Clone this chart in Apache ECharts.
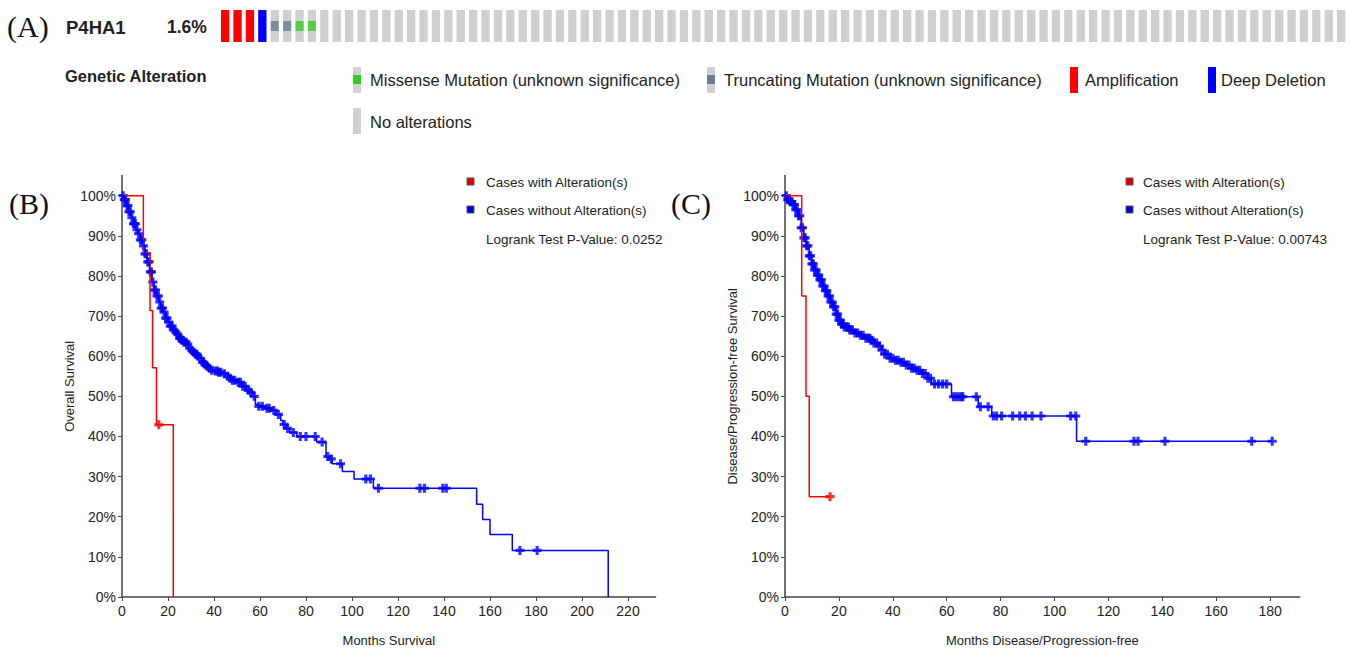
<!DOCTYPE html>
<html>
<head>
<meta charset="utf-8">
<script src="https://cdn.jsdelivr.net/npm/echarts@6/dist/echarts.min.js"></script>
<style>
  html, body { margin: 0; padding: 0; background: #fff; }
  #main { width: 1349px; height: 652px; }
</style>
</head>
<body>
<div id="main"></div>
<script>
// ---------- data ----------
// (A) oncoprint strip: altered samples first, then the unaltered ones visible in the strip
var alteredSamples = ['AMP', 'AMP', 'AMP', 'HOMDEL', 'TRUNC', 'TRUNC', 'MISSENSE', 'MISSENSE'];
var unalteredCount = 83;

// (B) overall survival, Kaplan-Meier steps [month, survival %]
var osAltSteps = [[0, 100], [9.3, 85.7], [12.2, 71.4], [13.3, 57.1], [15, 42.9], [22.3, 0]];
var osAltCensor = [16];
var osUnaltSteps = [
  [0, 100], [1, 99], [2, 97.5], [3, 96], [4, 94.5], [5, 93], [6, 91.5], [7, 90.5], [8, 89], [9, 87.5],
  [10, 85.5], [11, 83.5], [12, 81], [13, 78.5], [14, 76.5], [15, 75], [16, 73.5], [17, 72], [18, 71],
  [19, 69.5], [20, 68.5], [21, 67.5], [22, 66.5], [23, 66], [24, 65.5], [25, 64.5], [26, 64], [27, 63.5],
  [28, 63], [29, 62], [30, 61.5], [31, 61], [32, 60.5], [33, 60], [34, 59.5], [35, 58.5], [36, 58],
  [37, 57.5], [38, 57], [39, 56.5], [40, 56.3], [42, 56], [44, 55.6], [46, 55], [47, 54.5], [48, 54],
  [50, 53.5], [52, 52.5], [54, 51.5], [56, 51], [57, 50], [58, 48], [59, 47.5], [62, 47], [65, 46.5],
  [67, 45.5], [69, 44], [70, 43], [71.5, 42], [73, 41], [76, 40], [84.6, 38.6], [88.7, 35], [90, 34.4],
  [91.3, 33.2], [95.8, 31.3], [100.9, 29.4], [109.3, 27.1], [154.2, 23.1], [156.8, 19.3], [160, 15.6],
  [169.7, 11.6], [211.4, 0]
];
var osUnaltCensor = [
  0.5, 1, 1.5, 2.2, 2.6, 3, 3.6, 4.3, 5, 5.4, 5.8, 6.5, 7.2, 8, 8.6, 9.3, 10, 10.6, 11.2, 11.8, 12.3, 12.8, 13.4,
  14, 14.6, 15.2, 15.8, 16.4, 17, 17.6, 18.3, 19, 19.6, 20.3, 21, 21.8, 22.6, 23.4, 24.2, 25, 25.5, 26, 26.5, 27,
  27.8, 28.6, 29.4, 30.3, 31.2, 32, 32.5, 33, 34, 35, 35.5, 36, 37, 38, 39, 40.5, 41.5, 42, 43, 44.5, 46, 47, 48, 49,
  50.5, 51.5, 52.5, 53.5, 55, 56, 57.5, 59.5, 61, 63, 64, 66, 68, 70.5, 72, 74.5, 77.5, 80, 84, 87,
  89.5, 91, 95, 106, 108, 111.5, 129.5, 131.5, 139.5, 141, 173, 180.5
];

// (C) disease/progression-free survival
var dfsAltSteps = [[0, 100], [6.2, 75], [7.8, 50], [9, 25], [16.7, 25]];
var dfsAltCensor = [16.7];
var dfsUnaltSteps = [
  [0, 100], [1, 99], [2, 98.5], [3, 97.8], [4, 96.5], [5, 95], [6, 92], [7, 89.5], [8, 87.5], [9, 85],
  [10, 83], [11, 81.5], [12, 80.2], [13, 79], [14, 77.5], [15, 76.3], [16, 75], [17, 73.5], [18, 72.3],
  [19, 70.5], [20, 69], [21, 68], [22, 67.3], [24, 66.5], [26, 65.8], [28, 65.2], [30, 64.5], [32, 64],
  [33, 63.3], [35, 62.5], [36, 61.5], [37, 60.5], [39, 59.5], [41, 59], [43, 58.5], [45, 57.8], [47, 57],
  [49, 56.5], [51, 55.7], [53, 54.5], [54.4, 53.1], [61.8, 49.9], [71.7, 47.4], [76.7, 45.1],
  [108.2, 38.8], [180.8, 38.8]
];
var dfsUnaltCensor = [
  0.5, 1, 1.5, 2, 2.5, 3, 3.5, 4, 4.5, 5, 5.5, 6, 6.5, 7, 7.5, 8, 8.5, 9, 9.5, 10, 10.5, 11, 11.5, 12,
  12.5, 13, 13.5, 14, 14.5, 15, 15.5, 16, 16.5, 17, 17.5, 18, 18.5, 19, 19.5, 20, 20.5, 21, 21.5, 22, 23, 23.5, 24,
  25, 26, 27, 28, 29, 30, 31, 31.5, 32, 33, 34, 35, 36, 37, 38, 39, 40, 41, 42, 43, 44, 45, 46, 47, 48, 49,
  50, 51, 52, 53, 54, 55.5, 57, 58.5, 60, 62.5, 63.5, 64.5, 65.5, 66, 71, 72.5, 75.4, 77.3, 78.5, 80.4,
  84.5, 87.1, 89.2, 91.7, 95, 106, 107.9, 111.6, 129.5, 131, 141, 173.2, 180.8
];

var pctTicks = [0, 10, 20, 30, 40, 50, 60, 70, 80, 90, 100];
var osMonthTicks = [0, 20, 40, 60, 80, 100, 120, 140, 160, 180, 200, 220];
var dfsMonthTicks = [0, 20, 40, 60, 80, 100, 120, 140, 160, 180];

// ---------- helpers ----------
var RED = '#ff0000', BLUE = '#0000ff';
var FONT = 'Arial, "Liberation Sans", sans-serif';
var SERIF = '"Liberation Serif", "Times New Roman", serif';
var PLUS = 'path://M2.6,0H5.4V2.6H8V5.4H5.4V8H2.6V5.4H0V2.6H2.6Z';

function survAt(steps, t) {
  var s = steps[0][1];
  for (var i = 0; i < steps.length; i++) if (steps[i][0] <= t) s = steps[i][1];
  return s;
}
function censorPts(steps, times) {
  return times.map(function (t) { return [t, survAt(steps, t)]; });
}

var oncoColors = { AMP: RED, HOMDEL: BLUE, TRUNC: '#d0d0d0', MISSENSE: '#d0d0d0', NONE: '#d0d0d0' };
var mutColors = { TRUNC: '#6e7b8b', MISSENSE: '#33cc22' };
var samples = alteredSamples.slice();
for (var k = 0; k < unalteredCount; k++) samples.push('NONE');
var sampleIdx = samples.map(function (_, i) { return i; });
var oncoBars = samples.map(function (a) {
  return { value: 1, itemStyle: { color: oncoColors[a] } };
});
var oncoMuts = [];
samples.forEach(function (a, i) {
  if (mutColors[a]) oncoMuts.push({ value: [i, 0.5], itemStyle: { color: mutColors[a] } });
});

function valueAxisPct(gridIndex, name, gap) {
  return {
    type: 'value', gridIndex: gridIndex, min: 0, max: 105,
    name: name, nameLocation: 'middle', nameGap: gap, nameRotate: 90,
    nameTextStyle: { fontFamily: FONT, fontSize: 13, color: '#222' },
    axisLine: { show: true, lineStyle: { color: '#444', width: 1.5 } },
    axisTick: { show: true, length: 4, customValues: pctTicks, lineStyle: { color: '#444' } },
    axisLabel: { customValues: pctTicks, formatter: '{value}%', fontFamily: FONT, fontSize: 14, color: '#222', margin: 6 },
    splitLine: { show: false }
  };
}
function monthAxis(gridIndex, max, ticks, name) {
  return {
    type: 'value', gridIndex: gridIndex, min: 0, max: max,
    name: name, nameLocation: 'middle', nameGap: 37,
    nameTextStyle: { fontFamily: FONT, fontSize: 13, color: '#222' },
    axisLine: { show: true, lineStyle: { color: '#444', width: 1.5 } },
    axisTick: { show: true, length: 4, customValues: ticks, lineStyle: { color: '#444' } },
    axisLabel: { customValues: ticks, fontFamily: FONT, fontSize: 14, color: '#222', margin: 7 },
    splitLine: { show: false }
  };
}
function kmLine(xi, steps, color) {
  return {
    type: 'line', xAxisIndex: xi, yAxisIndex: xi, step: 'end', data: steps,
    showSymbol: false, symbol: 'none', silent: true,
    lineStyle: { color: color, width: 1.5 }
  };
}
function kmCensor(xi, steps, times, color) {
  return {
    type: 'scatter', xAxisIndex: xi, yAxisIndex: xi, data: censorPts(steps, times),
    symbol: PLUS, symbolSize: 9, silent: true, itemStyle: { color: color }
  };
}

function txt(x, y, text, size, opts) {
  opts = opts || {};
  return {
    type: 'text', x: x, y: y, silent: true,
    style: {
      text: text, fill: opts.fill || '#222', fontFamily: opts.family || FONT,
      fontSize: size, fontWeight: opts.bold ? 'bold' : 'normal',
      align: opts.align || 'left', verticalAlign: 'middle'
    }
  };
}
function rect(x, y, w, h, fill, stroke) {
  return {
    type: 'rect', silent: true, shape: { x: x, y: y, width: w, height: h },
    style: { fill: fill, stroke: stroke || null, lineWidth: stroke ? 1 : 0 }
  };
}

var graphics = [
  txt(7, 26, '(A)', 30, { family: SERIF, fill: '#111' }),
  txt(66, 27, 'P4HA1', 18.5, { bold: true }),
  txt(167, 27, '1.6%', 17.5, { bold: true }),
  txt(65, 76, 'Genetic Alteration', 16.5, { bold: true }),
  rect(353, 67, 8, 26, '#d0d0d0'), rect(353, 75, 8, 9, '#33cc22'),
  txt(370, 80, 'Missense Mutation (unknown significance)', 16.5),
  rect(707, 67, 8, 26, '#d0d0d0'), rect(707, 75, 8, 9, '#6e7b8b'),
  txt(724, 80, 'Truncating Mutation (unknown significance)', 16.5),
  rect(1070, 67, 8, 26, RED),
  txt(1085, 80, 'Amplification', 16.5),
  rect(1208, 67, 8, 26, BLUE),
  txt(1221, 80, 'Deep Deletion', 16.5),
  rect(353, 108, 8, 26, '#d0d0d0'),
  txt(370, 122, 'No alterations', 16.5),

  txt(9, 203, '(B)', 30, { family: SERIF, fill: '#111' }),
  rect(467, 178, 7, 7, '#dd0000', '#555'), txt(486, 182, 'Cases with Alteration(s)', 13.5),
  rect(467, 206, 7, 7, '#0000cc', '#555'), txt(486, 210, 'Cases without Alteration(s)', 13.5),
  txt(486, 239, 'Logrank Test P-Value: 0.0252', 13.5),

  txt(671, 203, '(C)', 30, { family: SERIF, fill: '#111' }),
  rect(1126, 178, 7, 7, '#dd0000', '#555'), txt(1143, 182, 'Cases with Alteration(s)', 13.5),
  rect(1126, 206, 7, 7, '#0000cc', '#555'), txt(1143, 210, 'Cases without Alteration(s)', 13.5),
  txt(1143, 239, 'Logrank Test P-Value: 0.00743', 13.5)
];

var option = {
  animation: false,
  backgroundColor: '#fff',
  grid: [
    { left: 218.95, right: 1.65, top: 10, height: 32 },          // oncoprint
    { left: 122, right: 693.4, top: 175.6, bottom: 49 },          // (B)
    { left: 785, right: 49.3, top: 175.6, bottom: 49 }            // (C)
  ],
  xAxis: [
    { type: 'category', gridIndex: 0, data: sampleIdx, show: false, boundaryGap: true },
    monthAxis(1, 232, osMonthTicks, 'Months Survival'),
    monthAxis(2, 191, dfsMonthTicks, 'Months Disease/Progression-free')
  ],
  yAxis: [
    { type: 'value', gridIndex: 0, min: 0, max: 1, show: false },
    valueAxisPct(1, 'Overall Survival', 44),
    valueAxisPct(2, 'Disease/Progression-free Survival', 42)
  ],
  series: [
    { type: 'bar', xAxisIndex: 0, yAxisIndex: 0, data: oncoBars, barWidth: 8.3, silent: true },
    { type: 'scatter', xAxisIndex: 0, yAxisIndex: 0, data: oncoMuts, symbol: 'rect', symbolSize: [8, 10], silent: true },

    kmLine(1, osAltSteps, RED),
    kmLine(1, osUnaltSteps, BLUE),
    kmCensor(1, osUnaltSteps, osUnaltCensor, BLUE),
    kmCensor(1, osAltSteps, osAltCensor, RED),

    kmLine(2, dfsAltSteps, RED),
    kmLine(2, dfsUnaltSteps, BLUE),
    kmCensor(2, dfsUnaltSteps, dfsUnaltCensor, BLUE),
    kmCensor(2, dfsAltSteps, dfsAltCensor, RED)
  ],
  graphic: graphics
};

var chart = echarts.init(document.getElementById('main'), null, { renderer: 'svg' });
chart.setOption(option);
</script>
</body>
</html>
